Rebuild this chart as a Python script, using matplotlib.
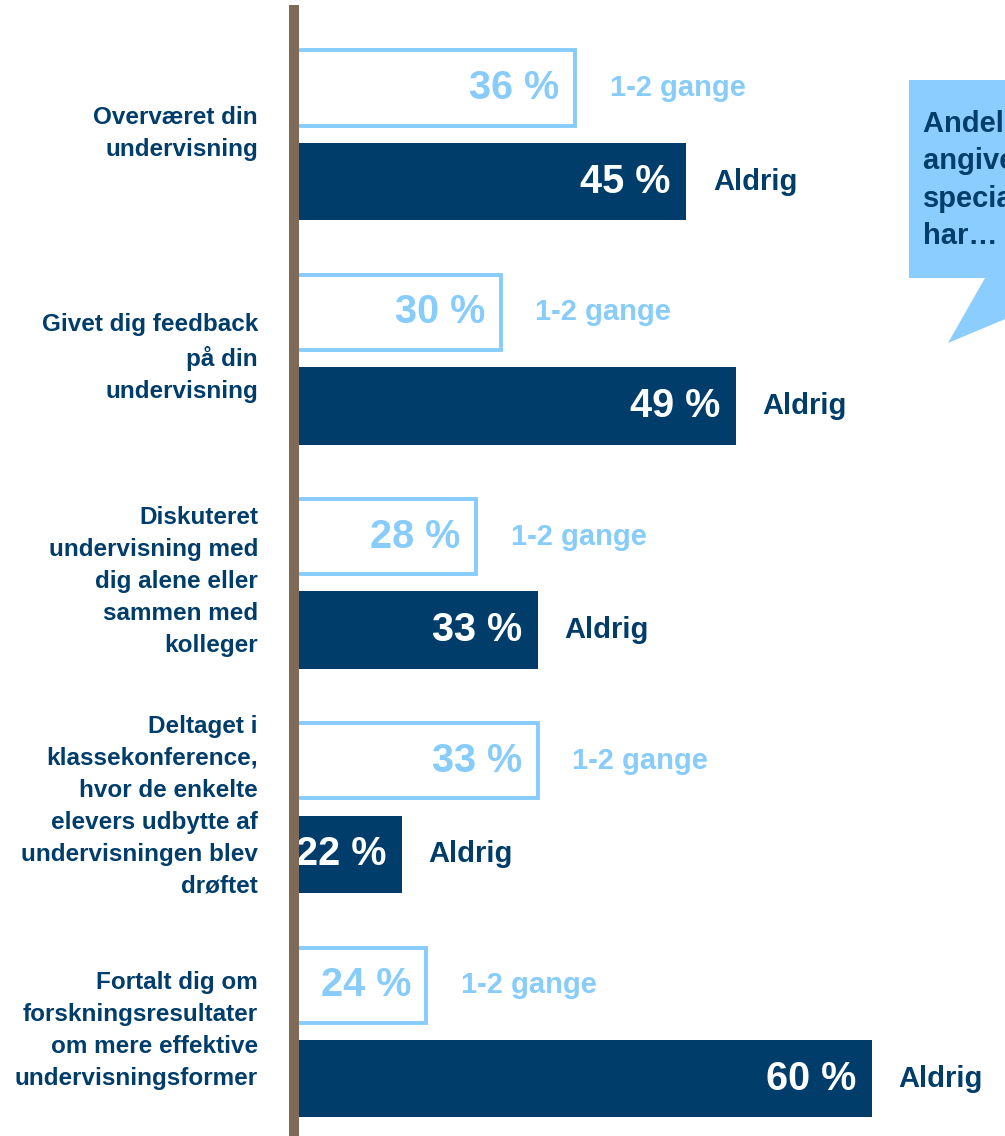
import matplotlib
matplotlib.use("Agg")
import matplotlib.pyplot as plt
from matplotlib.patches import Polygon

plt.rcParams['font.family'] = ['Liberation Sans', 'DejaVu Sans']
plt.rcParams['font.weight'] = 'bold'

categories = [
    "Overværet din\nundervisning",
    "Givet dig feedback\npå din\nundervisning",
    "Diskuteret\nundervisning med\ndig alene eller\nsammen med\nkolleger",
    "Deltaget i\nklassekonference,\nhvor de enkelte\nelevers udbytte af\nundervisningen blev\ndrøftet",
    "Fortalt dig om\nforskningsresultater\nom mere effektive\nundervisningsformer",
]
few_times = [36, 30, 28, 33, 24]   # "1-2 gange"
never = [45, 49, 33, 22, 60]       # "Aldrig"
few_label = "1-2 gange"
never_label = "Aldrig"
callout_text = "Andel der\nangiver, at\nspecialet\nhar…"

NAVY = "#003D6A"
LIGHT = "#87CCFA"
BROWN = "#7E6A56"

W, H = 1005, 1136
fig = plt.figure(figsize=(W / 100, H / 100), dpi=100)
ax_left, ax_top = 294, 10
ax = fig.add_axes([ax_left / W, 0, 1 - ax_left / W, 1 - ax_top / H])

n = len(categories)
off = 0.2085
bh = 0.335
for i in range(n):
    ax.barh(i - off, few_times[i], height=bh, left=0, facecolor="white",
            edgecolor=LIGHT, linewidth=2.8, zorder=2)
    ax.barh(i + off, never[i], height=bh + 0.01, left=0, color=NAVY, zorder=2)

    ax.annotate(f"{few_times[i]} %", xy=(few_times[i], i - off), xytext=(-11, 0),
                textcoords="offset points", ha="right", va="center",
                color=LIGHT, fontsize=28.5, fontweight="bold", zorder=3)
    ax.annotate(few_label, xy=(few_times[i], i - off), xytext=(25, 0),
                textcoords="offset points", ha="left", va="center",
                color=LIGHT, fontsize=21, fontweight="bold", zorder=3)
    ax.annotate(f"{never[i]} %", xy=(never[i], i + off), xytext=(-11, 0),
                textcoords="offset points", ha="right", va="center",
                color="white", fontsize=28.5, fontweight="bold", zorder=3)
    ax.annotate(never_label, xy=(never[i], i + off), xytext=(19.5, 0),
                textcoords="offset points", ha="left", va="center",
                color=NAVY, fontsize=21, fontweight="bold", zorder=3)
    ax.annotate(categories[i], xy=(0, i), xycoords=("axes fraction", "data"),
                xytext=(-26, 1), textcoords="offset points", ha="right",
                va="center", color=NAVY, fontsize=17.5, fontweight="bold",
                linespacing=1.5, annotation_clip=False)

px_per_unit = 12.37
xmin = 13.3
ax.set_xlim(xmin, xmin + (W - ax_left) / px_per_unit)
grp = 224.3
ytop = -(134.75 - ax_top) / grp
ax.set_ylim(ytop + (H - ax_top) / grp, ytop)

for s in ["top", "right", "bottom"]:
    ax.spines[s].set_visible(False)
ax.spines["left"].set_color(BROWN)
ax.spines["left"].set_linewidth(7.2)
ax.spines["left"].set_zorder(5)
ax.set_xticks([])
ax.set_yticks([])
ax.patch.set_alpha(0)

# callout bubble
pts = [(909, 80), (1010, 80), (1010, 317), (948, 343), (985, 278), (909, 278)]
poly = Polygon([(x / W, 1 - y / H) for x, y in pts], closed=True,
               transform=fig.transFigure, facecolor="#8ACDFE", edgecolor="none")
fig.patches.append(poly)
fig.text(923 / W, 1 - 110 / H, callout_text, ha="left", va="top", color=NAVY,
         fontsize=21, fontweight="bold", linespacing=1.43)

fig.savefig("out.png", dpi=100)
